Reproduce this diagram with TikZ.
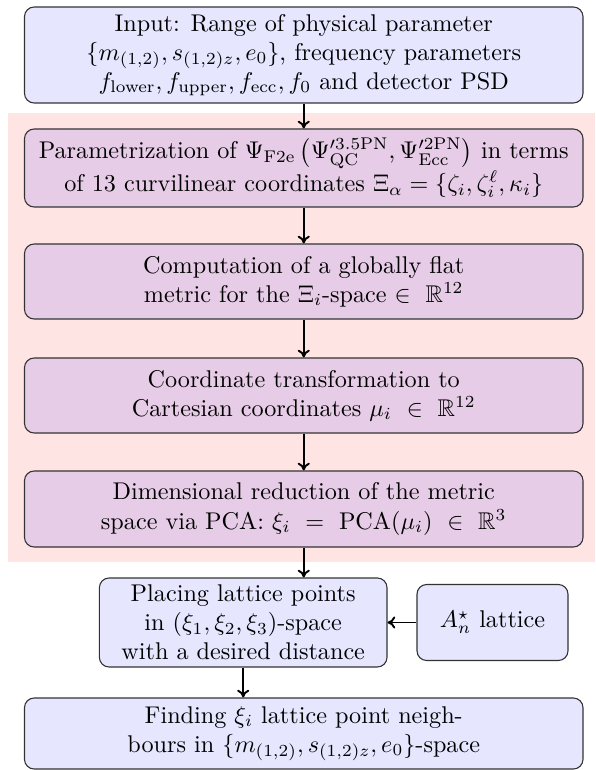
\documentclass[tikz,border=0pt]{standalone}
\usepackage{amssymb}
\usetikzlibrary{arrows.meta}
\def\u{0.4134pt}
\definecolor{boxblue}{HTML}{E6E6FF}
\definecolor{boxviolet}{HTML}{E6CCE6}
\definecolor{bgpink}{HTML}{FFE4E4}
\tikzset{
  flowbox/.style={draw=black!80, line width=0.45pt, rounded corners=4pt, align=center,
     inner sep=0pt, font=\fontsize{10}{12}\selectfont},
  bluebox/.style={flowbox, fill=boxblue},
  violetbox/.style={flowbox, fill=boxviolet},
  flowarrow/.style={-{To[length=3.2pt,width=5pt]}, line width=0.8pt},
}
\begin{document}
\begin{tikzpicture}[x=0.4134pt, y=-0.4134pt]
\useasboundingbox (0,0) rectangle (595,770);
\fill[bgpink] (8,113) rectangle (595,562);
\node[bluebox, minimum width=558.5*\u, minimum height=96*\u] (b1) at (303.75,55)
  {Input: Range of physical parameter\\
   $\{m_{(1,2)}, s_{(1,2)z}, e_0\}$, frequency parameters\\
   $f_{\rm lower}, f_{\rm upper}, f_{\rm ecc}, f_0$ and detector PSD};
\node[violetbox, minimum width=558.5*\u, minimum height=78*\u] (b2) at (303.75,168)
  {Parametrization of $\Psi_{\rm F2e}\left(\Psi'^{\rm 3.5PN}_{\rm QC}, \Psi'^{\rm 2PN}_{\rm Ecc}\right)$ in terms\\
   of 13 curvilinear coordinates $\Xi_\alpha = \{\zeta_i, \zeta_i^\ell, \kappa_i\}$};
\node[violetbox, minimum width=558.5*\u, minimum height=75*\u] (b3) at (303.75,281.5)
  {Computation of a globally flat\\
   metric for the $\Xi_i$-space $\in~\mathbb{R}^{12}$};
\node[violetbox, minimum width=558.5*\u, minimum height=75*\u] (b4) at (303.75,395.5)
  {Coordinate transformation to\\
   Cartesian coordinates $\mu_i~\in~\mathbb{R}^{12}$};
\node[violetbox, minimum width=558.5*\u, minimum height=76*\u] (b5) at (303.75,509)
  {Dimensional reduction of the metric\\
   space via PCA: $\xi_i~=~{\rm PCA}(\mu_i)~\in~\mathbb{R}^3$};
\node[bluebox, minimum width=287.6*\u, minimum height=89*\u] (b6) at (243.2,622.5)
  {Placing lattice points\\
   in $(\xi_1,\xi_2,\xi_3)$-space\\
   with a desired distance};
\node[bluebox, minimum width=151*\u, minimum height=76*\u] (an) at (492.5,622.5)
  {$A_n^\star$ lattice};
\node[bluebox, minimum width=558.5*\u, minimum height=71*\u] (b7) at (303.75,733.5)
  {Finding $\xi_i$ lattice point neigh-\\
   bours in $\{m_{(1,2)}, s_{(1,2)z}, e_0\}$-space};
\draw[flowarrow] (b1) -- (b2);
\draw[flowarrow] (b2) -- (b3);
\draw[flowarrow] (b3) -- (b4);
\draw[flowarrow] (b4) -- (b5);
\draw[flowarrow] (b5.south) -- (b5.south |- b6.north);
\draw[flowarrow] (b6.south) -- (b6.south |- b7.north);
\draw[flowarrow] (an.west) -- (an.west -| b6.east);
\end{tikzpicture}
\end{document}
